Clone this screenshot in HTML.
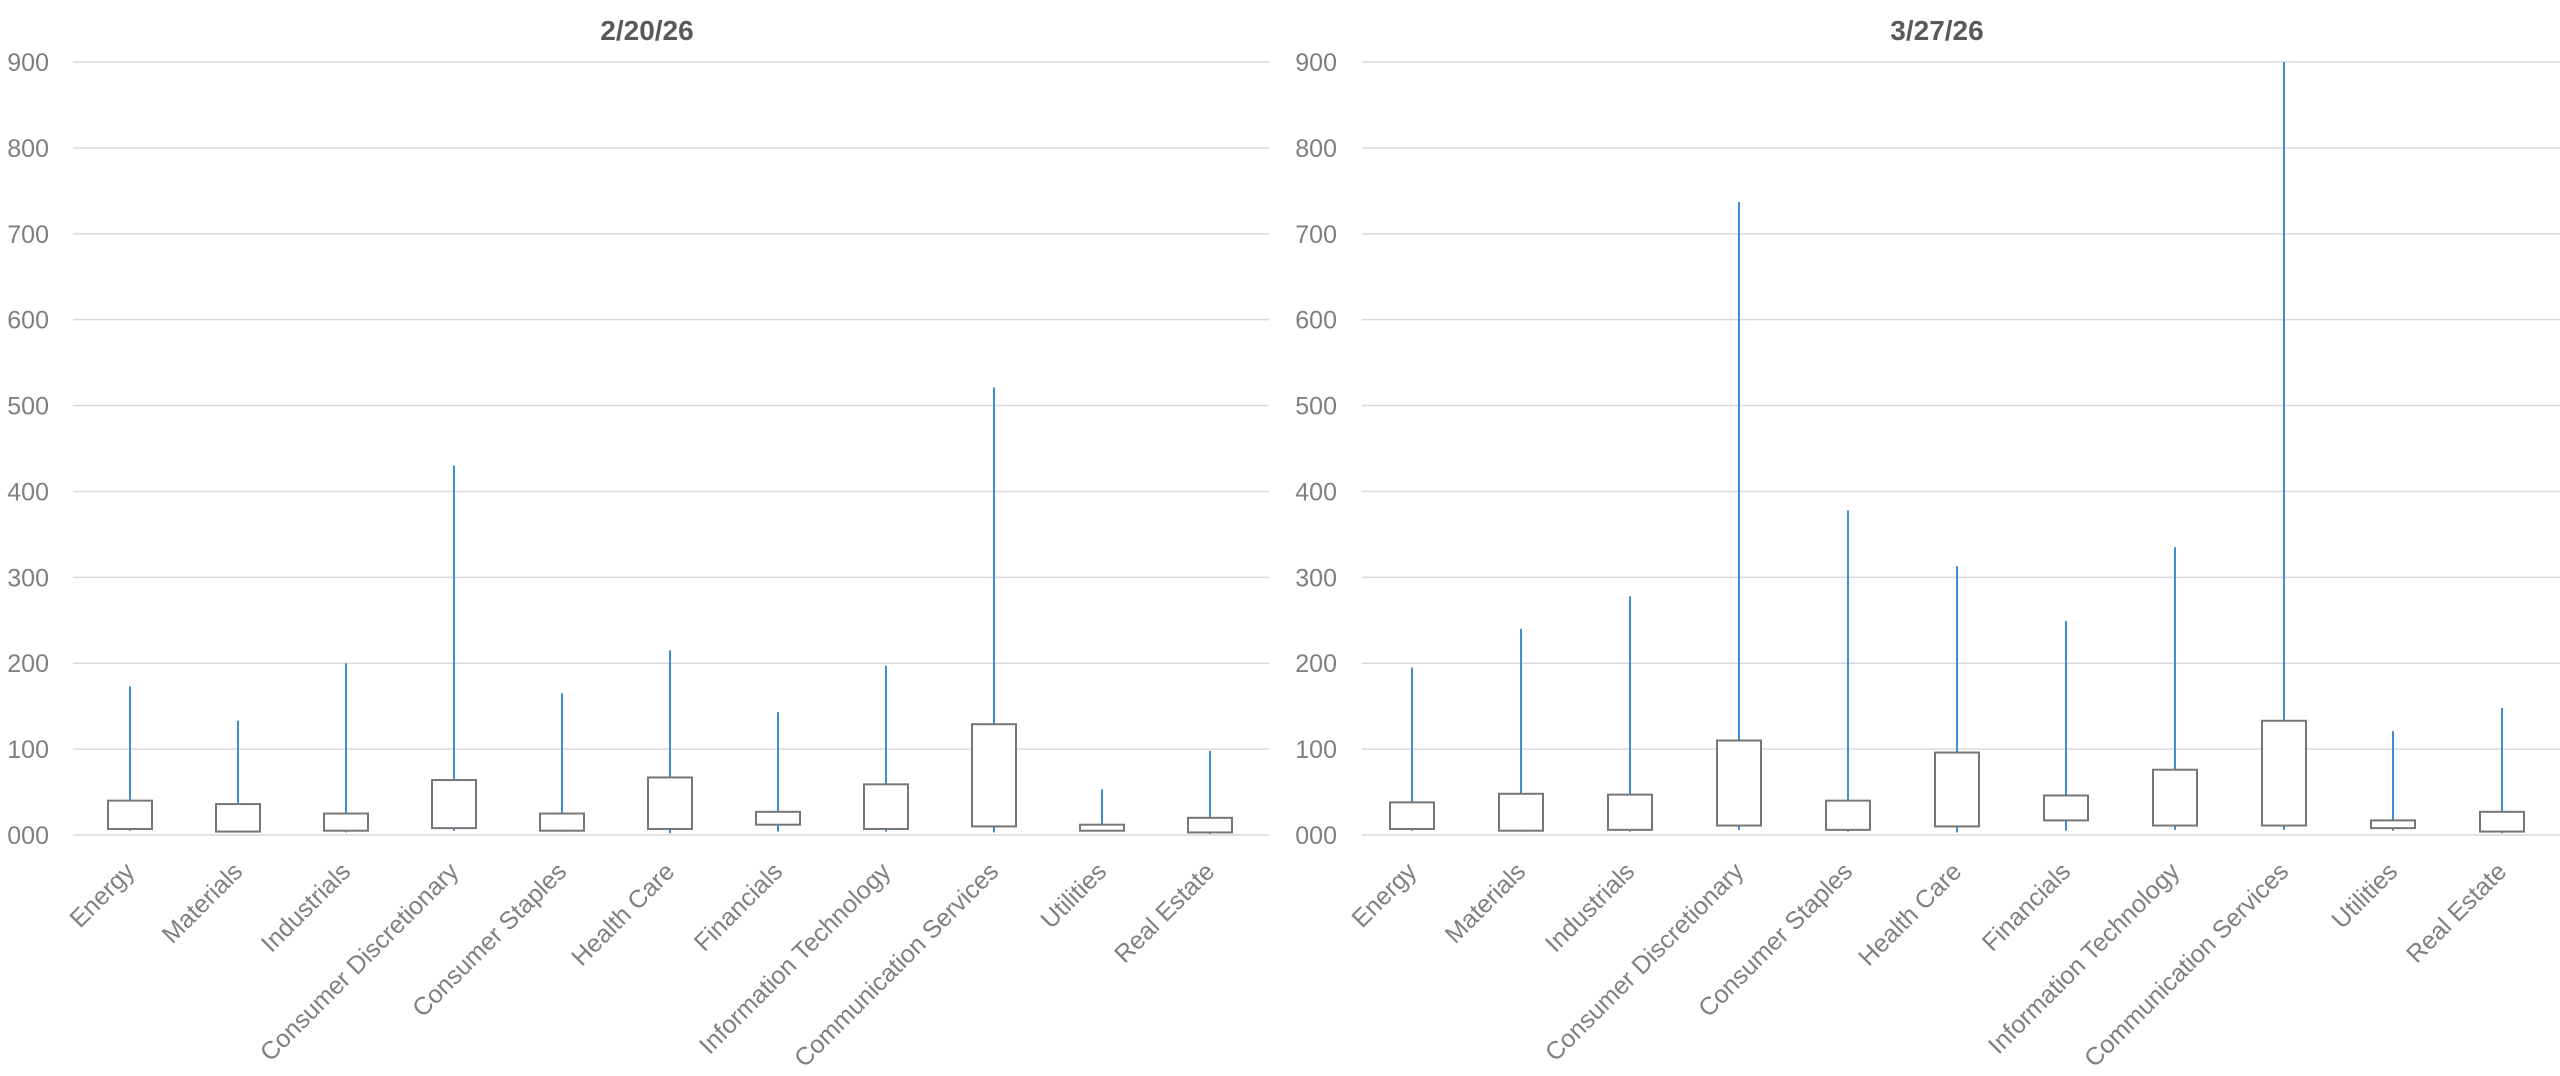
<!DOCTYPE html>
<html><head><meta charset="utf-8"><style>
html,body{margin:0;padding:0;background:#fff;width:2560px;height:1076px;overflow:hidden}
svg text{font-family:"Liberation Sans",sans-serif}
</style></head><body>
<svg id="s" width="2560" height="1076" xmlns="http://www.w3.org/2000/svg"></svg>
<script>
const cats=["Energy","Materials","Industrials","Consumer Discretionary","Consumer Staples","Health Care","Financials","Information Technology","Communication Services","Utilities","Real Estate"];
const L=[[5,7,40,173],[3,4,36,133],[3,5,25,200],[5,8,64,430],[4,5,25,165],[2,7,67,215],[4,12,27,143],[4,7,59,197],[3,10,129,521],[4,5,12,53],[1,3,20,98]];
const R=[[5,7,38,195],[4,5,48,240],[4,6,47,278],[6,11,110,737],[4,6,40,378],[3,10,96,313],[5,17,46,249],[6,11,76,335],[6,11,133,900],[5,8,17,121],[2,4,27,148]];
const y0=835,k=(835-62)/900;
const Y=v=>y0-v*k;
let h="";
function chart(title,tx,lx,gx0,gx1,px0,step,data){
  h+=`<text x="${tx}" y="40" text-anchor="middle" font-size="28" font-weight="bold" fill="#595959">${title}</text>`;
  for(let i=0;i<=9;i++){const y=Y(i*100);
    h+=`<line x1="${gx0}" x2="${gx1}" y1="${y}" y2="${y}" stroke="#d9d9d9" stroke-width="1.5"/>`;
    h+=`<text x="${lx}" y="${y+9}" text-anchor="end" font-size="25" fill="#7f7f7f">${i==0?"000":i*100}</text>`;}
  data.forEach((d,i)=>{const c=px0+step*(i+0.5);
    h+=`<line x1="${c}" x2="${c}" y1="${Y(d[0])}" y2="${Y(d[3])}" stroke="#3a8fd6" stroke-width="2"/>`;
    h+=`<rect x="${c-22}" y="${Y(d[2])}" width="44" height="${Y(d[1])-Y(d[2])}" fill="#fff" stroke="#767676" stroke-width="2"/>`;
    h+=`<text transform="translate(${c+6},873) rotate(-45)" text-anchor="end" font-size="25" fill="#7f7f7f">${cats[i]}</text>`;});
}
chart("2/20/26",647,49,73,1269,76,108,L);
chart("3/27/26",1937,1337,1362,2560,1357.5,109,R);
document.getElementById("s").innerHTML=h;
</script>
</body></html>
